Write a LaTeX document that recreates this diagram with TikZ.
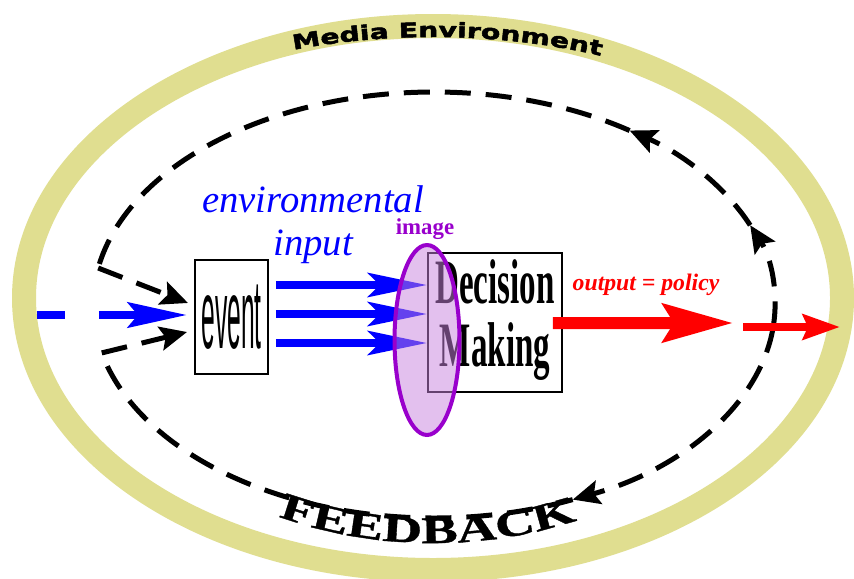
\documentclass[tikz,border=0pt]{standalone}
\usepackage{fontspec}
\usepackage{graphicx}
\setmainfont{Liberation Serif}
\setsansfont{Liberation Sans}
\newfontfamily\medfont[FakeStretch=1.4,FakeBold=2.5]{DejaVu Sans}
\newfontfamily\fbfont[FakeStretch=1.45,FakeBold=1]{Liberation Serif}
\newcommand\medtxt{\medfont\bfseries\fontsize{11.5}{12}\selectfont}
\newcommand\fbtxt{\fbfont\bfseries\fontsize{21.5}{22}\selectfont}
\usetikzlibrary{arrows.meta,calc,shapes.geometric,decorations.text}
\definecolor{bandyellow}{RGB}{224,222,144}
\definecolor{imgpurple}{RGB}{153,0,204}
\definecolor{imgfill}{RGB}{200,130,222}

\begin{document}
\begin{tikzpicture}
[
    x = 0.02cm, y = -0.02cm,
    band/.style = {draw = bandyellow, line width = 0.48cm},
    fbline/.style = {line width = 0.1cm, dash pattern = {on 0.52cm off 0.3cm}},
    fbtip/.style = {-{Stealth[length = 0.54cm, width = 0.48cm, inset = 0.1cm]}},
    box/.style = {draw, line width = 0.04cm, fill = white, inner sep = 0pt},
    srcarrow/.style = {draw = blue, line width = 0.17cm,
        dash pattern = {on 0.56cm off 0.68cm on 5cm},
        -{Stealth[length = 1.18cm, width = 0.5cm, inset = 0.2cm]}},
    inarrow/.style = {draw = blue, line width = 0.16cm,
        -{Stealth[length = 1.18cm, width = 0.48cm, inset = 0.24cm]}},
    outarrow/.style = {draw = red, line width = 0.24cm,
        -{Stealth[length = 1.4cm, width = 0.76cm, inset = 0.22cm]}},
    relayarrow/.style = {draw = red, line width = 0.16cm,
        -{Stealth[length = 0.74cm, width = 0.5cm, inset = 0.1cm]}},
]
\useasboundingbox[fill = white] (0,0) rectangle (854,578);

\coordinate (mc) at (433,298);
\coordinate (fb) at (434,305);
\draw[band] (mc) ellipse [x radius = 409, y radius = 272];

\path[decorate, decoration = {text along path, text align = center,
        text = {|\medtxt|Media Environment}}]
    ($(mc)+(-116:450 and 261)$) arc [start angle = -116, end angle = -60, x radius = 450, y radius = 261];
\path[decorate, decoration = {text along path, text align = center,
        text = {|\fbtxt|FEEDBACK}}]
    ($(mc)+(124:341 and 245)$) arc [start angle = 124, end angle = 58, x radius = 341, y radius = 245];

\node[box, minimum width = 1.46cm, minimum height = 2.3cm,
      font = \sffamily\fontsize{20}{20}\selectfont] (ev) at (231.5,317)
    {\scalebox{0.7}[2.8]{event}};
\node[box, minimum width = 2.68cm, minimum height = 2.78cm,
      font = \bfseries\fontsize{20}{20}\selectfont] (dm) at (495,322.5)
    {\scalebox{0.94}[1.8]{\begin{tabular}{@{}c@{}}Decision\\Making\end{tabular}}};

\coordinate (fbR) at ($(fb)+(6:341 and 213)$);
\coordinate (fbT1) at ($(fb)+(-22:341 and 213)$);
\coordinate (fbT2) at ($(fb)+(-55:341 and 213)$);
\coordinate (fbB) at ($(fb)+(66:341 and 213)$);
\draw[fbline, fbtip] (fbR) arc [start angle = 6, end angle = -22, x radius = 341, y radius = 213];
\draw[fbline, fbtip] (fbT1) arc [start angle = -22, end angle = -55, x radius = 341, y radius = 213];
\draw[fbline] (fbT2) arc [start angle = -55, end angle = -170, x radius = 341, y radius = 213] coordinate (fbL1);
\draw[fbline, fbtip] (fbL1) -- ($(ev.west)+(-6,-14)$);
\draw[fbline, fbtip] (fbR) arc [start angle = 6, end angle = 66, x radius = 341, y radius = 213];
\draw[fbline] (fbB) arc [start angle = 66, end angle = 167, x radius = 341, y radius = 213] coordinate (fbL2);
\draw[fbline, fbtip] (fbL2) -- ($(ev.west)+(-7,15)$);

\coordinate (src) at (37,315);
\draw[srcarrow, shorten > = 0.14cm] (src) -- (ev.west |- src);

\foreach \dy in {-32,-3,26}
    \draw[inarrow] ($(ev.east)+(7,\dy)$) coordinate (s) -- (s -| dm.west);

\node[ellipse, draw = imgpurple, line width = 0.08cm, fill = imgfill, fill opacity = 0.5,
      minimum width = 1.3cm, minimum height = 3.8cm, inner sep = 0pt] (img) at (427,340) {};

\coordinate (outA) at (733,323);
\coordinate (outB) at (743,327);
\coordinate (outC) at (840,327);
\draw[outarrow] ($(dm.east)+(-10,0.5)$) -- (outA);
\draw[relayarrow] (outB) -- (outC);

\node[font = \itshape\fontsize{22}{24.4}\selectfont, text = blue, align = center,
      inner sep = 0pt] (envin) at (313,225) {environmental\\input};
\node[font = \bfseries\fontsize{13}{14}\selectfont, text = imgpurple, inner sep = 0pt,
      anchor = base] (imglbl) at (425,234) {image};
\node[font = \bfseries\itshape\fontsize{13.5}{15}\selectfont, text = red, inner sep = 0pt,
      anchor = base] (pollbl) at (646,290) {output = policy};
\end{tikzpicture}
\end{document}
